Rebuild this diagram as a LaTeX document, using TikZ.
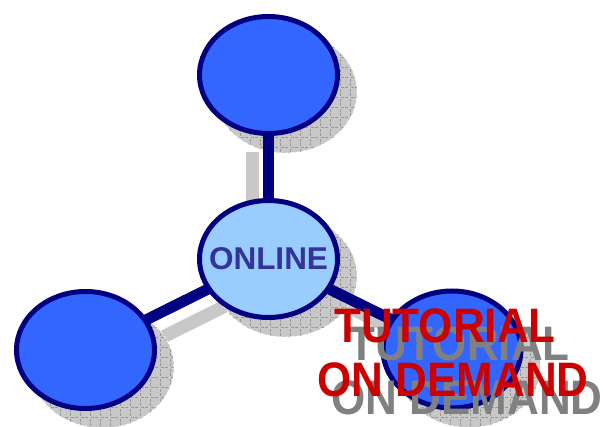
\documentclass[tikz,border=0pt]{standalone}
\usepackage{fontspec}
\setmainfont{Liberation Sans}
\usepackage{graphicx}
\usetikzlibrary{shapes.geometric,patterns.meta}
\definecolor{navy}{HTML}{000080}
\definecolor{hubblue}{HTML}{3366FF}
\definecolor{lightblue}{HTML}{99CCFF}
\definecolor{onlinetext}{HTML}{333399}
\definecolor{todred}{HTML}{CC0000}
\definecolor{shadowgray}{HTML}{C8C8C8}
\newcommand{\stretchy}[1]{\scalebox{1}[1.1]{#1}}

\begin{document}
\begin{tikzpicture}[
        x=1pt, y=-1pt,
        % Define the styles for bubbles, shadows and links
        bubble/.style={ellipse, draw=navy, line width=5pt, fill=hubblue,
            minimum width=138pt, minimum height=117pt, inner sep=0pt},
        shadow/.style={ellipse, draw=white, line width=0.6pt, dashed,
            preaction={fill=shadowgray},
            pattern={Hatch[angle=0, distance=10pt, line width=0.6pt]},
            pattern color=black!40,
            minimum width=143pt, minimum height=122pt, inner sep=0pt},
        link/.style={draw=navy, line width=11pt},
        shadowlink/.style={draw=shadowgray, line width=13pt},
        bigtext/.style={font=\bfseries\fontsize{44}{49}\selectfont,
            inner sep=0pt, anchor=base},
        ]

    \useasboundingbox (0,0) rectangle (603,427);

    % Centres of the bubbles and of their shadows
    \foreach \name/\x/\y in {T/268.5/75, C/268.5/259, L/85.5/350, R/452/349.5} {
        \coordinate (\name-c) at (\x,\y);
        \coordinate (\name-s) at (\x+17,\y+17);
    }
    \coordinate (tsa) at (252.5,152);
    \coordinate (tsb) at (252.5,205);

    % Shadows of the links
    \draw[shadowlink] (tsa) -- (tsb);
    \foreach \name in {L,R}
        \draw[shadowlink] (C-s) -- (\name-s);

    % Shadows of the bubbles
    \foreach \name in {T,C,L,R}
        \node[shadow] (\name S) at (\name-s) {};

    % Links from the hub
    \foreach \name in {T,L,R}
        \draw[link] (C-c) -- (\name-c);

    % Bubbles
    \node[bubble] (T) at (T-c) {};
    \node[bubble] (L) at (L-c) {};
    \node[bubble] (R) at (R-c) {};
    \node[bubble, fill=lightblue] (C) at (C-c) {};
    \node[text=onlinetext, font=\bfseries\fontsize{31.5}{36}\selectfont]
        (online) at (C) {ONLINE};

    % Caption with its shadow
    \node[bigtext, text=gray] (tutS) at (459,361) {\stretchy{TUTORIAL}};
    \node[bigtext, text=gray] (demS) at (467,415) {\stretchy{ON DEMAND}};
    \node[bigtext, text=todred] (tut) at (445,343) {\stretchy{TUTORIAL}};
    \node[bigtext, text=todred] (dem) at (453,397) {\stretchy{ON DEMAND}};

\end{tikzpicture}
\end{document}
